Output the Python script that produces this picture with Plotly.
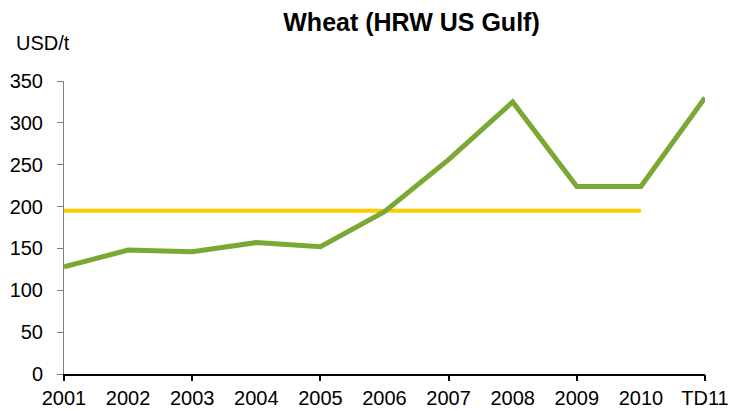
import plotly.graph_objects as go

categories = ["2001", "2002", "2003", "2004", "2005", "2006", "2007", "2008", "2009", "2010", "TD11"]
wheat_price = [128, 148, 146, 157, 152, 194, 256, 325, 224, 224, 330]
avg_categories = ["2001", "2010"]
avg_value = [195, 195]
major_tick_categories = ["2001", "2003", "2005", "2007", "2009", "TD11"]

idx = {c: i for i, c in enumerate(categories)}

fig = go.Figure()
fig.add_trace(go.Scatter(
    x=[idx[c] for c in avg_categories], y=avg_value, mode="lines",
    line=dict(color="#FFCC00", width=4), showlegend=False))
fig.add_trace(go.Scatter(
    x=[idx[c] for c in categories], y=wheat_price, mode="lines",
    line=dict(color="#7BA834", width=5), showlegend=False))
# invisible trace to anchor the tick-mark axis
fig.add_trace(go.Scatter(
    x=[idx[c] for c in avg_categories], y=avg_value, mode="lines",
    line=dict(width=0), opacity=0, xaxis="x2", showlegend=False, hoverinfo="skip"))

W, H = 730, 411
ml, mr, mt, mb = 64, 25, 81, 37
fig.update_layout(
    width=W, height=H,
    margin=dict(l=ml, r=mr, t=mt, b=mb),
    paper_bgcolor="white", plot_bgcolor="white",
    font=dict(family="Liberation Sans, Arial, sans-serif", size=20, color="black"),
    title=dict(text="<b>Wheat (HRW US Gulf)</b>", x=411.5 / W, xanchor="center",
               y=1 - 22 / H, yanchor="middle",
               font=dict(size=25, family="Liberation Sans, Arial, sans-serif")),
    xaxis=dict(range=[0, 10], tickvals=list(range(len(categories))), ticktext=categories,
               showgrid=False, zeroline=False, showline=True, linecolor="black", linewidth=2,
               ticks="", tickfont=dict(size=20), automargin=False, ticklabelstandoff=5),
    xaxis2=dict(range=[0, 10], overlaying="x", anchor="y", side="bottom",
                tickvals=[idx[c] for c in major_tick_categories], showticklabels=False,
                ticks="outside", ticklen=6, tickcolor="black", tickwidth=2,
                showgrid=False, zeroline=False, showline=False, automargin=False),
    yaxis=dict(range=[0, 350], dtick=50, showgrid=False, zeroline=False, showline=True,
               linecolor="#808080", linewidth=1, ticks="outside", ticklen=6,
               tickcolor="#808080", tickfont=dict(size=20), automargin=False,
               ticklabelstandoff=10),
    annotations=[dict(text="USD/t", xref="paper", yref="paper", x=-50 / (W - ml - mr),
                      y=1 + (81 - 43) / (H - mt - mb), xanchor="left", yanchor="middle",
                      showarrow=False, font=dict(size=20))],
)

fig.write_html("out.html", config={"displayModeBar": False},
               post_script="document.body.style.margin='0';document.body.style.padding='0';")
